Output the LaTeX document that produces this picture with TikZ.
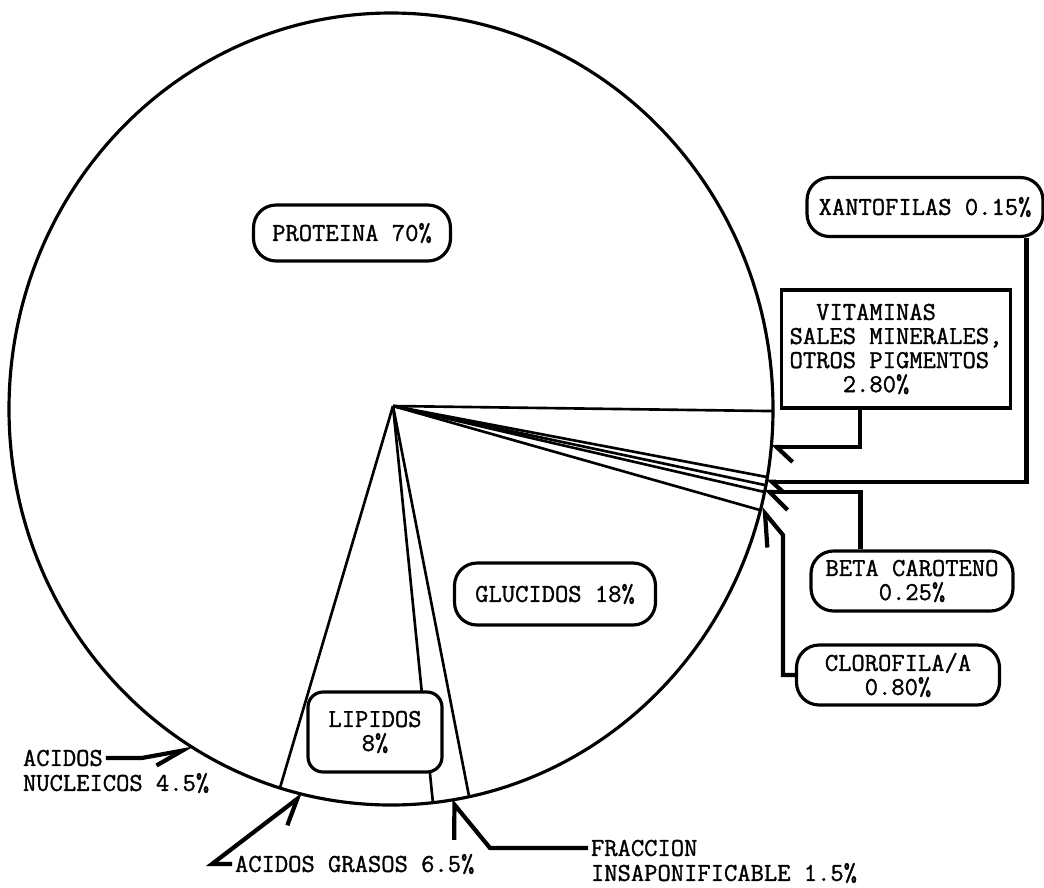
\documentclass[tikz,border=0pt]{standalone}
\usepackage{fontspec}
\setmonofont{Latin Modern Mono}[FakeBold=1.2]
\usetikzlibrary{positioning, arrows.meta, calc}
\tikzset{
  tw/.style      = {font=\ttfamily\fontsize{14.7}{13.7}\selectfont},
  pillbox/.style = {draw, tw, line width=1.8pt, rounded corners=0.45cm, fill=white, align=center},
  sqbox/.style   = {draw, tw, line width=1.8pt, fill=white, align=left, inner xsep=0.12cm},
  tag/.style     = {tw, inner xsep=1.5pt, inner ysep=0pt},
  rim/.style     = {line width=1.8pt},
  slice/.style   = {line width=1.5pt},
  lead/.style    = {line width=2.4pt},
  barbl/.style 2 args = {lead, -{Straight Barb[left, length=#1, width=#2]}},
  barbr/.style 2 args = {lead, -{Straight Barb[right, length=#1, width=#2]}}
}

\begin{document}
\begin{tikzpicture}[x=0.02cm, y=-0.02cm]
    \useasboundingbox (0,0) rectangle (1044,887);

    % ── Pie outline and slice edges ─────────────────────────────────────
    \coordinate (C) at (391,409);
    \coordinate (O) at (393,406);
    \draw[rim] (C) ellipse [x radius=382, y radius=396];

    \foreach \a in {0.3, 9.9, 11.1, 12.1, 14.8, 78.2, 83.7, 106.9}
      \draw[slice] (O) -- ($(C)+(\a:382 and 396)$);

    % points on the rim where the leaders end
    \coordinate (tv) at ($(C)+(5.5:382 and 396)$);
    \coordinate (tx) at ($(C)+(10.6:382 and 396)$);
    \coordinate (tb) at ($(C)+(12.1:382 and 396)$);
    \coordinate (tc) at ($(C)+(14.5:382 and 396)$);
    \coordinate (tf) at ($(C)+(81:382 and 396)$);
    \coordinate (tg) at ($(C)+(103.3:382 and 396)$);
    \coordinate (tn) at ($(C)+(121:382 and 396)$);

    % ── Labels inside the pie ───────────────────────────────────────────
    \node[pillbox, minimum width=3.94cm, minimum height=1.12cm] (prot) at (352,233)
      {PROTEINA 70\%};
    \node[pillbox, minimum width=4.02cm, minimum height=1.24cm] (gluc) at (555,594)
      {GLUCIDOS 18\%};
    \node[pillbox, rounded corners=0.3cm, minimum width=2.68cm, minimum height=1.6cm] (lip) at (375,732)
      {LIPIDOS\\8\%};

    % ── Right column: small fractions ───────────────────────────────────
    \node[pillbox, minimum width=4.72cm, minimum height=1.18cm] (xan) at (925,207)
      {XANTOFILAS 0.15\%};
    \node[sqbox, minimum width=4.58cm, minimum height=2.36cm] (vit) at (896,349)
      {\phantom{XX}VITAMINAS\\SALES MINERALES,\\OTROS PIGMENTOS\\\phantom{XXXX}2.80\%};
    \node[pillbox, minimum width=4.04cm, minimum height=1.2cm] (beta) at (912,581)
      {BETA CAROTENO\\0.25\%};
    \node[pillbox, minimum width=4.06cm, minimum height=1.2cm] (clo) at (898,675)
      {CLOROFILA/A\\0.80\%};

    \draw[barbl={0.32cm}{0.6cm}]  ([xshift=1.6cm]vit.south west) |- (tv);
    \draw[barbl={0.22cm}{0.4cm}]  ([xshift=-0.36cm]xan.south east) |- (tx);
    \draw[barbl={0.36cm}{0.72cm}] ([xshift=1.02cm]beta.north west) |- (tb);
    \draw[barbl={0.56cm}{0.8cm}]  (clo.west) -- ++(-12,0) -- ++(0,-140) -- (tc);

    % ── Bottom and left: free labels ────────────────────────────────────
    \node[tag, anchor=west] (acn)  at (20,758)  {ACIDOS};
    \node[tag, anchor=west] (acn2) at (20,783)  {NUCLEICOS 4.5\%};
    \node[tag, anchor=west] (agr)  at (232,864) {ACIDOS GRASOS 6.5\%};
    \node[tag, anchor=west] (fra)  at (588,848) {FRACCION};
    \node[tag, anchor=west] (fra2) at (588,873) {INSAPONIFICABLE 1.5\%};

    \draw[barbr={0.56cm}{0.4cm}] (acn.east) -- ++(36,0) -- (tn);
    \draw[barbr={0.48cm}{0.6cm}] (agr.west) -- ++(-20,0) -- (tg);
    \draw[barbl={0.54cm}{0.9cm}] (fra.west) -- ++(-98,0) -- (tf);

\end{tikzpicture}
\end{document}
